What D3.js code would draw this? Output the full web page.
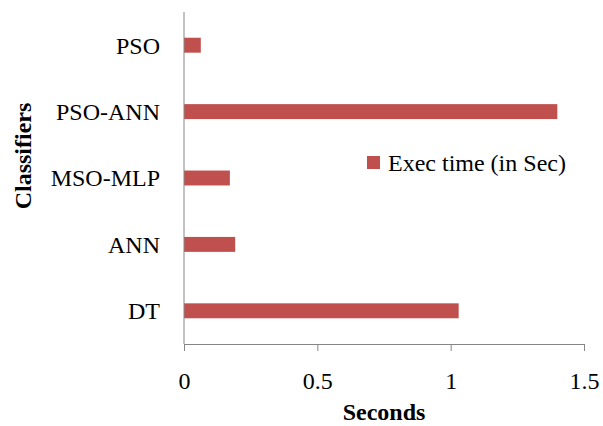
<!DOCTYPE html>
<html>
<head>
<meta charset="utf-8">
<script src="https://cdn.jsdelivr.net/npm/d3@7"></script>
<style>
  html, body { margin: 0; padding: 0; background: #fff; }
  svg { display: block; }
  text { font-family: "Liberation Serif", "Times New Roman", Times, serif; fill: #000; }
</style>
</head>
<body>
<svg id="chart" width="603" height="426"></svg>
<script>
const categories = ["PSO", "PSO-ANN", "MSO-MLP", "ANN", "DT"];
const execTime = [0.063, 1.40, 0.172, 0.192, 1.03];
const xTicks = [0, 0.5, 1, 1.5];
const seriesName = "Exec time (in Sec)";
const xTitle = "Seconds";
const yTitle = "Classifiers";

(function () {
const svg = d3.select("#chart");
const mLeft = 184, mRight = 584, mTop = 12, mBottom = 344;
const barColor = "#C0504D";
const axisColor = "#868686";

const x = d3.scaleLinear().domain([0, 1.5]).range([mLeft, mRight]);
const y = d3.scaleBand().domain(categories).range([mTop, mBottom]).paddingInner(0.775).paddingOuter(0.3875);

// bars
svg.append("g").selectAll("rect")
  .data(categories.map((c, i) => ({ c, v: execTime[i] })))
  .join("rect")
  .attr("x", x(0))
  .attr("y", d => y(d.c))
  .attr("width", d => x(d.v) - x(0))
  .attr("height", y.bandwidth())
  .attr("fill", barColor);

// x axis
const xAxis = svg.append("g").attr("transform", `translate(0,${mBottom})`)
  .call(d3.axisBottom(x).tickValues(xTicks).tickFormat(d3.format("")).tickSizeInner(7).tickSizeOuter(0).tickPadding(21));
xAxis.select(".domain").attr("stroke", axisColor);
xAxis.selectAll(".tick line").attr("stroke", axisColor);
xAxis.selectAll(".tick text").attr("font-size", 24).attr("font-family", "Liberation Serif").attr("fill", "#000");

// y axis
const yAxis = svg.append("g").attr("transform", `translate(${mLeft},0)`)
  .call(d3.axisLeft(y).tickSize(0).tickPadding(24));
yAxis.select(".domain").attr("stroke", axisColor).attr("d", `M0,${mTop}V${mBottom}`);
yAxis.selectAll(".tick text").attr("font-size", 24).attr("font-family", "Liberation Serif").attr("fill", "#000").attr("dy", "0.35em");

// axis titles
svg.append("text").attr("x", (mLeft + mRight) / 2).attr("y", 420)
  .attr("text-anchor", "middle").attr("font-size", 24).attr("font-weight", "bold").text(xTitle);
svg.append("text").attr("transform", "translate(31,156) rotate(-90)")
  .attr("text-anchor", "middle").attr("font-size", 24).attr("font-weight", "bold").text(yTitle);

// legend
const lg = svg.append("g");
lg.append("rect").attr("x", 367).attr("y", 156).attr("width", 13).attr("height", 13).attr("fill", barColor);
lg.append("text").attr("x", 388).attr("y", 171).attr("font-size", 24).text(seriesName);
})();
</script>
</body>
</html>
